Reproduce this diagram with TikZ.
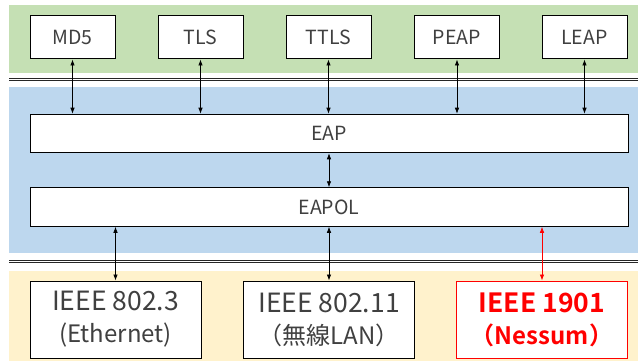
\documentclass[tikz,border=0pt]{standalone}
\usepackage{fontspec}
\setmainfont{Noto Sans CJK JP}[BoldFont={Noto Sans CJK JP Bold}]
\usetikzlibrary{arrows.meta}
\definecolor{bandgreen}{HTML}{C5E0B4}
\definecolor{bandblue}{HTML}{BDD7EE}
\definecolor{bandyellow}{HTML}{FFF2CC}
\definecolor{txtgray}{HTML}{404040}
\definecolor{sepline}{HTML}{262626}
\tikzset{
  topbox/.style={draw=black, line width=1pt, fill=white, minimum width=85pt, minimum height=43pt, inner sep=0pt, text=txtgray, font=\fontsize{19.5}{22}\selectfont},
  widebox/.style={draw=black, line width=1pt, fill=white, minimum width=598pt, minimum height=38.5pt, inner sep=0pt, text=txtgray, font=\fontsize{19.5}{22}\selectfont},
  lowbox/.style={draw=black, line width=1pt, fill=white, minimum width=171pt, minimum height=77pt, inner sep=0pt, text=txtgray, align=center, font=\fontsize{24}{32}\selectfont},
  redbox/.style={lowbox, draw=red, text=red},
  link/.style={<->, >={Latex[length=6pt,width=4.5pt]}, line width=0.7pt, draw=black},
  redlink/.style={link, draw=red},
  sepl/.style={draw=sepline, line width=0.9pt}
}
\begin{document}
\begin{tikzpicture}[x=1pt,y=-1pt]
\useasboundingbox (0,0) rectangle (638,361);
% bands
\fill[bandgreen] (9,5) rectangle (638,73);
\fill[bandblue] (9,87) rectangle (638,253);
\fill[bandyellow] (9,271) rectangle (638,361);
% separators
\draw[sepl] (9,78.2) -- (638,78.2);
\draw[sepl] (9,80.8) -- (638,80.8);
\draw[sepl] (9,260.6) -- (638,260.6);
\draw[sepl] (9,262.6) -- (638,262.6);
% top boxes
\node[topbox] (md5)  at (72.5,37.5) {MD5};
\node[topbox] (tls)  at (200.5,37.5) {TLS};
\node[topbox] (ttls) at (328.5,37.5) {TTLS};
\node[topbox] (peap) at (457,37.5) {PEAP};
\node[topbox] (leap) at (584.5,37.5) {LEAP};
% middle
\node[widebox] (eap)   at (329,133.5) {EAP};
\node[widebox] (eapol) at (329,207) {EAPOL};
% bottom
\node[lowbox] (e8023)  at (115.5,319.5) {{\fontsize{26.5}{32}\selectfont IEEE 802.3}\\(Ethernet)};
\node[lowbox] (e80211) at (329,319.5) {{\fontsize{26.5}{32}\selectfont IEEE 802.11}\\（無線LAN）};
\node[redbox] (e1901)  at (542,319.5) {{\fontsize{26.5}{32}\selectfont\bfseries IEEE 1901}\\{\bfseries （Nessum）}};
% links
\foreach \n in {md5,tls,ttls,peap,leap}
  \draw[link] (\n.south) -- (\n.south |- eap.north);
\draw[link] (eapol.north |- eap.south) -- (eapol.north);
\draw[link] (e8023.north |- eapol.south) -- (e8023.north);
\draw[link] (e80211.north |- eapol.south) -- (e80211.north);
\draw[redlink] (e1901.north |- eapol.south) -- (e1901.north);
\end{tikzpicture}
\end{document}
